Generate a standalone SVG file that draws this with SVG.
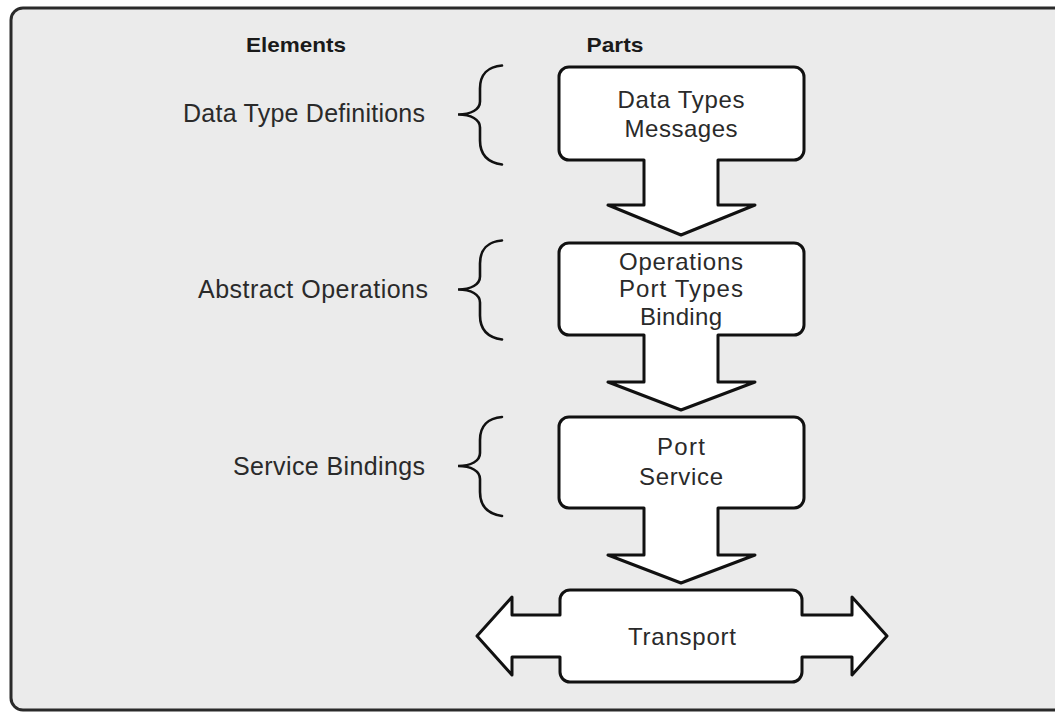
<svg xmlns="http://www.w3.org/2000/svg" width="1055" height="713" viewBox="0 0 1055 713">
  <style>
    .frame { fill: #ebebeb; stroke: #2a2a2a; stroke-width: 3; }
    .part { fill: #ffffff; stroke: #111111; stroke-width: 3; stroke-linejoin: round; }
    .brace { fill: none; stroke: #111111; stroke-width: 2.6; stroke-linecap: round; }
    .head { font-family: "Liberation Sans", Arial, sans-serif; font-weight: bold; font-size: 21px; fill: #1a1a1a; text-anchor: middle; }
    .elem { font-family: "Liberation Sans", Arial, sans-serif; font-size: 25px; fill: #2a2a2a; text-anchor: end; }
    .label { font-family: "Liberation Sans", Arial, sans-serif; font-size: 24px; fill: #2a2a2a; text-anchor: middle; }
  </style>
  <defs>
    <!-- curly brace, point at x=0, vertical centre at y=0 -->
    <path id="brace-shape" class="brace" d="M45,-49 C31,-48 23,-40 23,-26 V-13 C23,-5 14,0 1,0 C14,0 23,5 23,13 V26 C23,40 31,48 45,50"/>
  </defs>

  <rect width="1055" height="713" fill="#ffffff"/>
  <rect class="frame" x="11" y="8" width="1062" height="702" rx="12"/>

  <g id="headings">
    <text class="head" x="296" y="52" textLength="100" lengthAdjust="spacingAndGlyphs">Elements</text>
    <text class="head" x="615" y="52" textLength="57" lengthAdjust="spacingAndGlyphs">Parts</text>
  </g>

  <g id="elements">
    <text class="elem" x="425" y="122" textLength="242" lengthAdjust="spacing">Data Type Definitions</text>
    <text class="elem" x="428" y="298" textLength="230" lengthAdjust="spacing">Abstract Operations</text>
    <text class="elem" x="425" y="475" textLength="192" lengthAdjust="spacing">Service Bindings</text>
  </g>

  <g id="braces">
    <use href="#brace-shape" transform="translate(457,114.5)"/>
    <use href="#brace-shape" transform="translate(457,289.5)"/>
    <use href="#brace-shape" transform="translate(457,466)"/>
  </g>

  <g id="part-data-types">
    <path class="part" d="M569,67 H794 A10,10 0 0 1 804,77 V150 A10,10 0 0 1 794,160 H718 V205 H755 L681,235 L608,205 H644 V160 H569 A10,10 0 0 1 559,150 V77 A10,10 0 0 1 569,67 Z"/>
    <text class="label" x="681" y="108" textLength="127" lengthAdjust="spacing">Data Types</text>
    <text class="label" x="681" y="137" textLength="113" lengthAdjust="spacing">Messages</text>
  </g>

  <g id="part-operations">
    <path class="part" d="M569,243 H794 A10,10 0 0 1 804,253 V325 A10,10 0 0 1 794,335 H718 V382 H755 L681,410 L608,382 H644 V335 H569 A10,10 0 0 1 559,325 V253 A10,10 0 0 1 569,243 Z"/>
    <text class="label" x="681" y="270" textLength="124" lengthAdjust="spacing">Operations</text>
    <text class="label" x="681" y="297" textLength="124" lengthAdjust="spacing">Port Types</text>
    <text class="label" x="681" y="325" textLength="82" lengthAdjust="spacing">Binding</text>
  </g>

  <g id="part-service">
    <path class="part" d="M569,417 H794 A10,10 0 0 1 804,427 V498 A10,10 0 0 1 794,508 H718 V555 H755 L681,583 L608,555 H644 V508 H569 A10,10 0 0 1 559,498 V427 A10,10 0 0 1 569,417 Z"/>
    <text class="label" x="681" y="455" textLength="48" lengthAdjust="spacing">Port</text>
    <text class="label" x="681" y="485" textLength="84" lengthAdjust="spacing">Service</text>
  </g>

  <g id="part-transport">
    <path class="part" d="M570,590 H792 A10,10 0 0 1 802,600 V615 H852 V597 L887,636 L852,675 V657 H802 V672 A10,10 0 0 1 792,682 H570 A10,10 0 0 1 560,672 V657 H512 V675 L477,636 L512,597 V615 H560 V600 A10,10 0 0 1 570,590 Z"/>
    <text class="label" x="682" y="645" textLength="108" lengthAdjust="spacing">Transport</text>
  </g>
</svg>
